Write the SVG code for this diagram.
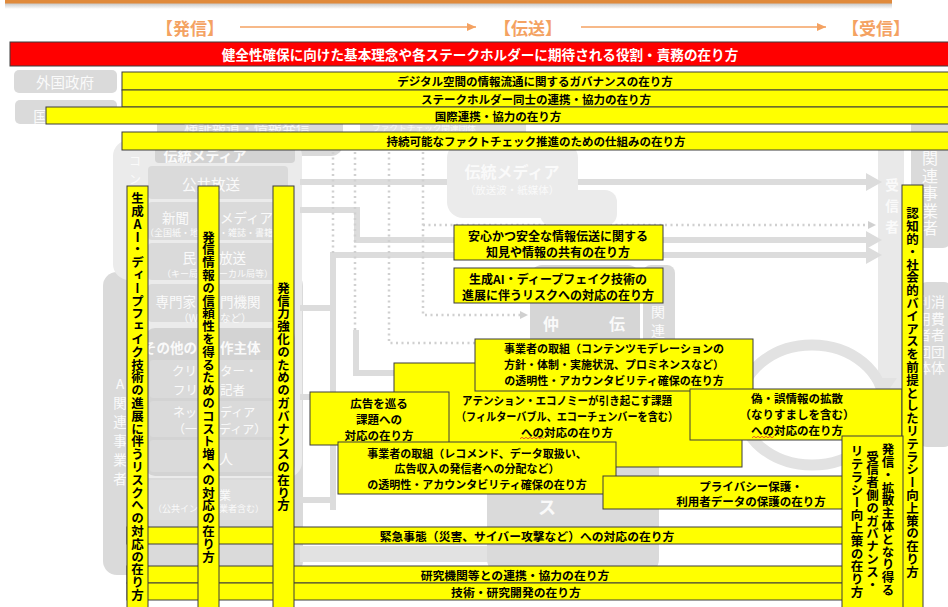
<svg xmlns="http://www.w3.org/2000/svg" width="948" height="607" viewBox="0 0 948 607">
<defs>
<linearGradient id="sh" x1="0" y1="0" x2="0" y2="1"><stop offset="0" stop-color="#C4C4C4"/><stop offset="1" stop-color="#FFFFFF"/></linearGradient>
<style>
.f{font-family:"Noto Sans CJK JP","Noto Sans CJK SC","Noto Sans",sans-serif}
.y{fill:#FFFF00;stroke:#3C3C3C;stroke-width:1}
.bt{font-weight:700;fill:#000000;text-anchor:middle;dominant-baseline:central}
.hb{font-size:11.5px}
.bb{font-size:11.8px}
.bx{font-size:11.5px}
.bs{font-size:11px}
.b12{font-size:12px}
.vt{font-weight:700;fill:#000000;font-size:12.5px;writing-mode:vertical-rl;text-orientation:upright;text-anchor:middle;letter-spacing:0.3px}
.hd{font-weight:700;fill:#F4A262;font-size:17px;text-anchor:middle;dominant-baseline:central}
.bgL{fill:#EBEBEB}
.bgM{fill:#DADADA}
.bgD{fill:#D3D3D3}
.wt{fill:#FAFAFA;dominant-baseline:central}
.ms{font-size:13.5px}
.ss{font-size:9px}
.e{text-anchor:end}
.m{text-anchor:middle}
.bo{font-weight:700}
.thk{fill:none;stroke:#DCDCDC;stroke-width:6}
.dot{fill:none;stroke:#D0D0D0;stroke-width:2.5;stroke-dasharray:2 3.5}
</style>
<marker id="oa" markerUnits="userSpaceOnUse" markerWidth="9" markerHeight="8" refX="9" refY="4" orient="auto"><path d="M0,0 L9,4 L0,8 z" fill="#F4A262"/></marker>
<marker id="ga" markerUnits="userSpaceOnUse" markerWidth="16" markerHeight="18" refX="1" refY="9" orient="auto"><path d="M0,0 L16,9 L0,18 z" fill="#DCDCDC"/></marker>
<marker id="da" markerUnits="userSpaceOnUse" markerWidth="8" markerHeight="8" refX="1" refY="4" orient="auto"><path d="M0,0 L8,4 L0,8 z" fill="#D0D0D0"/></marker>
</defs>
<rect width="948" height="607" fill="#FFFFFF"/>
<g id="top-border">
<rect x="5" y="3" width="887" height="6" fill="url(#sh)"/>
<rect x="5" y="0" width="887" height="3.5" fill="#E08A3C"/>
</g>
<g id="headers" class="f">
<text class="hd" x="190" y="27">【発信】</text>
<text class="hd" x="528" y="27">【伝送】</text>
<text class="hd" x="876" y="27">【受信】</text>
</g>

<g id="bg-foreign-gov" class="f">
<rect x="14" y="70" width="103" height="23" rx="5" class="bgM"/>
<text class="wt m" x="65" y="81.5" font-size="14.5">外国政府</text>
</g>
<g id="bg-intl" class="f">
<rect x="15" y="100" width="102" height="24" rx="5" class="bgM"/>
<text class="wt m" x="40.5" y="115" font-size="14.5">国</text>
</g>
<g id="bg-verification" class="f">
<rect x="157" y="100" width="186" height="56" rx="12" class="bgM"/>
<text class="wt m" x="247" y="127" font-size="14">検証報道・情報発信</text>
</g>
<g id="bg-factcheck" class="f">
<rect x="360" y="116" width="166" height="20" fill="#E4E4E4"/>
<text class="wt m" x="424" y="126.5" font-size="8.5" textLength="104" lengthAdjust="spacingAndGlyphs">ファクトチェック関連団体</text>
</g>
<g id="bg-right-related" class="f">
<rect x="911" y="118" width="40" height="130" rx="8" class="bgM"/>
<text class="wt" x="930" y="150" font-size="16" style="writing-mode:vertical-rl;text-orientation:upright;letter-spacing:1.5px">関連事業者</text>
</g>
<g id="bg-consumer" class="f">
<rect x="919" y="282" width="33" height="165" rx="8" class="bgM"/>
<text class="wt" x="938" y="295" font-size="14" style="writing-mode:vertical-rl;text-orientation:upright;letter-spacing:2.5px">消費者団体</text>
<text class="wt" x="924" y="295" font-size="14" style="writing-mode:vertical-rl;text-orientation:upright;letter-spacing:2.5px">利用者団体</text>
</g>
<g id="bg-receiver" class="f">
<rect x="878" y="150" width="26" height="460" fill="#E9E9E9"/>
<text class="wt m bo" x="892" y="184" font-size="13.5">受</text>
<text class="wt m bo" x="892" y="205" font-size="13.5">信</text>
<text class="wt m bo" x="892" y="226" font-size="13.5">者</text>
</g>

<g id="bg-ai-business" class="f">
<rect x="103" y="272" width="200" height="303" rx="14" class="bgM"/>
<text class="wt m" x="120" y="383" font-size="13.5">A</text>
<text class="wt m" x="120" y="402" font-size="13.5">関</text>
<text class="wt m" x="120" y="421" font-size="13.5">連</text>
<text class="wt m" x="120" y="440" font-size="13.5">事</text>
<text class="wt m" x="120" y="459" font-size="13.5">業</text>
<text class="wt m" x="120" y="478" font-size="13.5">者</text>
</g>
<g id="bg-content" class="f">
<rect x="113" y="140" width="189" height="140" rx="16" class="bgL"/>
<rect x="128" y="250" width="174" height="228" rx="16" class="bgL"/>
<text class="wt m" x="135" y="160" font-size="12">コ</text>
<text class="wt m" x="135" y="178" font-size="12">ン</text>
<rect x="155" y="138" width="140" height="25" rx="4" class="bgD"/>
<text class="wt m bo" x="205" y="155" font-size="14">伝統メディア</text>
<rect x="148" y="166" width="140" height="33" rx="4" class="bgM"/>
<text class="wt m" x="211" y="183" font-size="14.5">公共放送</text>
<rect x="148" y="202" width="140" height="38" rx="4" class="bgM"/>
<text class="wt e ms" x="189" y="217">新聞</text>
<text class="wt ms" x="220" y="217">メディア</text>
<text class="wt e ss" x="199" y="232.5">（全国紙・地</text>
<text class="wt ss" x="219" y="232.5">・雑誌・書籍等）</text>
<rect x="148" y="243" width="140" height="37" rx="4" class="bgM"/>
<text class="wt e ms" x="196" y="257">民</text>
<text class="wt ms" x="219" y="257">放送</text>
<text class="wt e ss" x="198" y="273">（キー局</text>
<text class="wt ss" x="219" y="273">ーカル局等）</text>
<rect x="148" y="284" width="140" height="38" rx="4" class="bgM"/>
<text class="wt e ms" x="196" y="301">専門家</text>
<text class="wt ms" x="220" y="301">門機関</text>
<text class="wt e" x="198" y="317" font-size="10.5">（W</text>
<text class="wt" x="220" y="317" font-size="10.5">など）</text>
<rect x="145" y="328" width="150" height="148" rx="10" class="bgD"/>
<text class="wt e bo" x="197" y="347" font-size="13.5">その他の</text>
<text class="wt bo" x="220" y="347" font-size="13.5">作主体</text>
<rect x="150" y="360" width="138" height="38" rx="3" class="bgM"/>
<text class="wt e" x="197" y="370" font-size="12.5">クリ</text>
<text class="wt" x="220" y="370" font-size="12.5">ター・</text>
<text class="wt e" x="198" y="389" font-size="12.5">フリ</text>
<text class="wt" x="220" y="389" font-size="12.5">記者</text>
<rect x="150" y="401" width="138" height="36" rx="3" class="bgM"/>
<text class="wt e" x="197" y="411" font-size="12">ネッ</text>
<text class="wt" x="220" y="411" font-size="12">ディア</text>
<text class="wt e" x="197" y="428" font-size="12">（一</text>
<text class="wt" x="219" y="428" font-size="12">ディア）</text>
<rect x="150" y="440" width="138" height="32" rx="3" class="bgM"/>
<text class="wt" x="219" y="458" font-size="14">人</text>
<rect x="148" y="480" width="140" height="40" rx="4" fill="#DEDEDE"/>
<text class="wt" x="219" y="494" font-size="12">業</text>
<text class="wt e ss" x="198" y="508">（公共イン</text>
<text class="wt ss" x="219" y="508">業者含む）</text>
</g>

<g id="connectors">
<path d="M240,27 H476" stroke="#F4A262" stroke-width="1.6" fill="none" marker-end="url(#oa)"/>
<path d="M581,27 H826" stroke="#F4A262" stroke-width="1.6" fill="none" marker-end="url(#oa)"/>
<path class="thk" d="M300,182 H867" marker-end="url(#ga)"/>
<path class="thk" d="M300,210 H357 V240 H867" marker-end="url(#ga)"/>
<path class="thk" d="M300,308 H333"/>
<path class="thk" d="M333,510 V255 H867" marker-end="url(#ga)"/>
<path class="thk" d="M356,330 V373 H394"/>
<path class="thk" d="M300,397 H312"/>
<path class="thk" d="M300,500 H336"/>
<path d="M300,554 H490" stroke="#E2E2E2" stroke-width="16" fill="none"/>
<path class="dot" d="M333,152 V255"/>
<path class="dot" d="M355,152 V330"/>
<path class="dot" d="M389,152 V343 H476"/>
<path class="dot" d="M423,152 V315 H521" marker-end="url(#da)"/>
<path class="dot" d="M423,225 H869" marker-end="url(#da)"/>
<ellipse cx="812" cy="405" rx="72" ry="60" fill="none" stroke="#E2E2E2" stroke-width="11"/>
<polygon points="870,378 897,378 884,397" fill="#E2E2E2"/>
</g>

<g id="bg-traditional-media" class="f">
<rect x="447" y="142" width="131" height="76" rx="16" class="bgL"/>
<rect x="540" y="190" width="77" height="36" rx="12" class="bgL"/>
<text class="wt m bo" x="512" y="171" font-size="16">伝統メディア</text>
<text class="wt m" x="512" y="189" font-size="10.5">（放送波・紙媒体）</text>
</g>
<g id="bg-platform" class="f">
<rect x="530" y="265" width="110" height="110" rx="12" fill="#D6D6D6"/>
<rect x="643" y="265" width="32" height="90" rx="8" class="bgM"/>
<rect x="487" y="440" width="172" height="135" rx="16" class="bgM"/>
<text class="wt m bo" x="551" y="323" font-size="16">仲</text>
<text class="wt m bo" x="617" y="323" font-size="16">伝</text>
<text class="wt m" x="658" y="311" font-size="14">関</text>
<text class="wt m" x="658" y="330" font-size="14">連</text>
<text class="wt m bo" x="547" y="506" font-size="18">ス</text>
</g>

<g id="bar-digital-governance" class="f">
<rect class="y" x="122" y="72" width="830" height="18"/>
<text class="bt hb" x="535" y="81">デジタル空間の情報流通に関するガバナンスの在り方</text>
</g>
<g id="bar-stakeholder" class="f">
<rect class="y" x="122" y="90" width="830" height="17"/>
<text class="bt hb" x="536" y="98.5">ステークホルダー同士の連携・協力の在り方</text>
</g>
<g id="bar-international" class="f">
<rect class="y" x="46" y="107" width="906" height="17"/>
<text class="bt hb" x="498" y="115.5">国際連携・協力の在り方</text>
</g>
<g id="bar-factcheck" class="f">
<rect class="y" x="122" y="132" width="830" height="18"/>
<text class="bt hb" x="536" y="141">持続可能なファクトチェック推進のための仕組みの在り方</text>
</g>
<g id="bar-basic-principle" class="f">
<rect x="10" y="42" width="945" height="24" fill="#FF0000" stroke="#3C3C3C" stroke-width="1"/>
<text class="bt" x="480" y="54" font-size="13.6" style="fill:#FFFFFF">健全性確保に向けた基本理念や各ステークホルダーに期待される役割・責務の在り方</text>
</g>

<g id="box-attention" class="f">
<rect class="y" x="394" y="363" width="348" height="104"/>
<text class="bt bx" x="567" y="400" textLength="210" lengthAdjust="spacingAndGlyphs">アテンション・エコノミーが引き起こす課題</text>
<text class="bt bx" x="567" y="416" textLength="222" lengthAdjust="spacingAndGlyphs">（フィルターバブル、エコーチェンバーを含む）</text>
<text class="bt bx" x="567" y="432">への対応の在り方</text>
<polyline points="520,438.8 522,437.3 524,438.8 526,437.3 528,438.8 530,437.3 532,438.8 534,437.3 536,438.8 538,437.3 540,438.8 542,437.3 544,438.8" fill="none" stroke="#E03030" stroke-width="0.8"/>
</g>
<g id="box-safe-transmission" class="f">
<rect class="y" x="454" y="225" width="209" height="35"/>
<text class="bt b12" x="558" y="235">安心かつ安全な情報伝送に関する</text>
<text class="bt b12" x="558" y="251">知見や情報の共有の在り方</text>
</g>
<g id="box-genai" class="f">
<rect class="y" x="454" y="268" width="209" height="35"/>
<text class="bt b12" x="558" y="278">生成AI・ディープフェイク技術の</text>
<text class="bt b12" x="558" y="294">進展に伴うリスクへの対応の在り方</text>
</g>
<g id="box-moderation" class="f">
<rect class="y" x="475" y="339" width="278" height="52"/>
<text class="bt bs" x="614" y="348">事業者の取組（コンテンツモデレーションの</text>
<text class="bt bs" x="614" y="364">方針・体制・実施状況、プロミネンスなど）</text>
<text class="bt bs" x="614" y="380">の透明性・アカウンタビリティ確保の在り方</text>
</g>
<g id="box-ads" class="f">
<rect class="y" x="310" y="392" width="139" height="53"/>
<text class="bt bx" x="379" y="403">広告を巡る</text>
<text class="bt bx" x="379" y="419">課題への</text>
<text class="bt bx" x="379" y="435">対応の在り方</text>
</g>
<g id="box-recommend" class="f">
<rect class="y" x="338" y="442" width="278" height="52"/>
<text class="bt bs" x="477" y="453">事業者の取組（レコメンド、データ取扱い、</text>
<text class="bt bs" x="477" y="468">広告収入の発信者への分配など）</text>
<text class="bt bs" x="477" y="484">の透明性・アカウンタビリティ確保の在り方</text>
</g>
<g id="box-misinformation" class="f">
<rect class="y" x="690" y="389" width="212" height="51"/>
<text class="bt bx" x="797" y="398">偽・誤情報の拡散</text>
<text class="bt bx" x="797" y="414">（なりすましを含む）</text>
<text class="bt bx" x="797" y="430">への対応の在り方</text>
<polyline points="752,437.8 754,436.3 756,437.8 758,436.3 760,437.8 762,436.3 764,437.8 766,436.3 768,437.8 770,436.3 772,437.8 774,436.3" fill="none" stroke="#E03030" stroke-width="0.8"/>
</g>
<g id="box-privacy" class="f">
<rect class="y" x="603" y="476" width="300" height="33"/>
<text class="bt bx" x="751" y="486">プライバシー保護・</text>
<text class="bt bx" x="751" y="501">利用者データの保護の在り方</text>
</g>

<g id="bar-emergency" class="f">
<rect class="y" x="127" y="527" width="776" height="17"/>
<text class="bt bb" x="527" y="535.5">緊急事態（災害、サイバー攻撃など）への対応の在り方</text>
</g>
<g id="bar-research-coop" class="f">
<rect class="y" x="127" y="566" width="776" height="17"/>
<text class="bt bb" x="515" y="574.5">研究機関等との連携・協力の在り方</text>
</g>
<g id="bar-tech-rd" class="f">
<rect class="y" x="127" y="583" width="776" height="17"/>
<text class="bt bb" x="516" y="591.5">技術・研究開発の在り方</text>
</g>

<g id="v-genai-risk" class="f">
<rect class="y" x="127" y="186" width="21" height="430"/>
<text class="vt" x="137.5" y="397">生成AI・ディープフェイク技術の進展に伴うリスクへの対応の在り方</text>
</g>
<g id="v-trust-cost" class="f">
<rect class="y" x="198" y="186" width="21" height="430"/>
<text class="vt" x="208.5" y="397">発信情報の信頼性を得るためのコスト増への対応の在り方</text>
</g>
<g id="v-sender-governance" class="f">
<rect class="y" x="273" y="186" width="21" height="430"/>
<text class="vt" x="283.5" y="397">発信力強化のためのガバナンスの在り方</text>
</g>
<g id="v-cognitive-bias" class="f">
<rect class="y" x="902" y="185" width="21" height="430"/>
<text class="vt" x="912.5" y="393">認知的・社会的バイアスを前提としたリテラシー向上策の在り方</text>
</g>
<g id="v-receiver-literacy" class="f">
<rect class="y" x="842" y="436" width="61" height="180"/>
<text class="vt" x="888" y="520">発信・拡散主体となり得る</text>
<text class="vt" x="872.5" y="521">受信者側のガバナンス・</text>
<text class="vt" x="857" y="522">リテラシー向上策の在り方</text>
</g>
</svg>
